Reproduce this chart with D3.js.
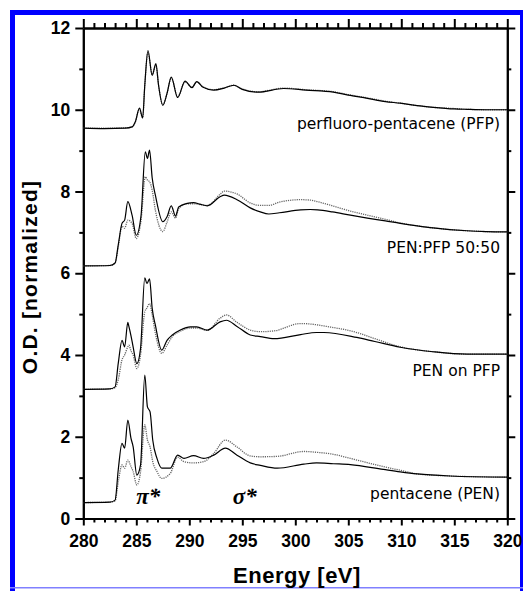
<!DOCTYPE html>
<html>
<head>
<meta charset="utf-8">
<script src="https://cdn.jsdelivr.net/npm/d3@7"></script>
<style>
  body { margin: 0; background: #fff; }
  .axis text { font-family: "Liberation Sans", Arial, sans-serif; font-size: 17.5px; font-weight: bold; fill: #000; }
  .axis path, .axis line { stroke: #000; stroke-width: 2; }
  .note { font-family: "DejaVu Sans", Verdana, sans-serif; font-size: 15.5px; fill: #000; }
</style>
</head>
<body>
<script>
//screen width and height
var w = 526;
var h = 591;

// energy grid + solid / dotted O.D. for each film
var pfpE      = [280, 282, 284, 284.6, 284.9, 285.3, 285.6, 285.8, 286.1, 286.5, 286.85, 287.1, 287.5, 287.9, 288.3, 288.9, 289.6, 290.25, 290.7, 291.3, 292.3, 293.3, 294.2, 295, 296.5, 298.9, 301, 303.6, 305, 306.8, 308.5, 309.9, 311.5, 313, 315, 316.2, 318, 320];
var pfpSolid  = [9.55, 9.54, 9.55, 9.58, 9.7, 10.04, 9.8, 10.6, 11.45, 10.84, 11.13, 10.6, 10.11, 10.4, 10.8, 10.3, 10.7, 10.54, 10.69, 10.55, 10.48, 10.53, 10.6, 10.5, 10.43, 10.52, 10.48, 10.43, 10.36, 10.28, 10.2, 10.16, 10.1, 10.06, 10.02, 10.01, 10.0, 10.0];
var pfpDotted = [9.55, 9.55, 9.56, 9.58, 9.7, 10.02, 9.8, 10.6, 11.4, 10.86, 11.1, 10.6, 10.12, 10.4, 10.78, 10.32, 10.68, 10.55, 10.68, 10.56, 10.49, 10.54, 10.6, 10.51, 10.44, 10.53, 10.49, 10.44, 10.37, 10.29, 10.21, 10.16, 10.1, 10.06, 10.03, 10.01, 10.0, 10.0];

var mixE      = [280, 282.5, 283, 283.3, 283.65, 283.9, 284.2, 284.6, 285, 285.45, 285.85, 286.05, 286.25, 286.5, 286.8, 287.5, 287.9, 288.3, 288.7, 289, 289.8, 290.4, 291, 291.7, 292.9, 293.3, 294.5, 295.75, 296.7, 297.5, 298.5, 300.5, 301.4, 302.1, 303.5, 305.2, 306.8, 308.5, 309.9, 311.5, 313, 316.2, 318, 320];
var mixSolid  = [6.18, 6.19, 6.25, 6.7, 7.22, 7.3, 7.75, 7.42, 6.93, 7.42, 8.97, 8.81, 9.01, 8.33, 7.91, 7.26, 7.38, 7.65, 7.4, 7.62, 7.71, 7.73, 7.69, 7.65, 7.87, 7.91, 7.8, 7.6, 7.5, 7.45, 7.48, 7.55, 7.56, 7.55, 7.5, 7.42, 7.35, 7.28, 7.22, 7.16, 7.11, 7.04, 7.02, 7.01];
var mixDotted = [6.18, 6.19, 6.25, 6.65, 7.15, 7.1, 7.3, 7.22, 6.85, 7.3, 8.36, 8.28, 8.24, 8.03, 7.54, 7.02, 7.25, 7.5, 7.35, 7.58, 7.7, 7.7, 7.68, 7.66, 7.93, 8.01, 7.94, 7.72, 7.66, 7.66, 7.74, 7.8, 7.79, 7.75, 7.65, 7.52, 7.42, 7.32, 7.23, 7.16, 7.11, 7.04, 7.02, 7.01];

var onE       = [280, 282.5, 283, 283.3, 283.65, 283.9, 284.2, 284.3, 284.5, 284.7, 285.05, 285.4, 285.8, 286, 286.25, 286.5, 286.8, 287.4, 287.9, 288.4, 289.15, 290.1, 290.7, 291.7, 292.9, 293.5, 294.5, 295.75, 296.7, 298, 300.5, 302, 302.7, 305.8, 307.5, 309.9, 313, 316.2, 320];
var onSolid   = [3.16, 3.17, 3.22, 3.8, 4.36, 4.2, 4.8, 4.7, 4.47, 4.2, 3.79, 4.16, 5.89, 5.75, 5.86, 5.14, 4.73, 4.12, 4.36, 4.49, 4.61, 4.69, 4.69, 4.61, 4.81, 4.85, 4.7, 4.49, 4.45, 4.4, 4.5, 4.55, 4.55, 4.43, 4.33, 4.19, 4.08, 4.02, 4.02];
var onDotted  = [3.16, 3.17, 3.2, 3.4, 3.88, 4.0, 4.2, 4.24, 4.1, 4.0, 3.67, 4.0, 5.06, 5.15, 5.26, 4.98, 4.53, 4.04, 4.24, 4.45, 4.58, 4.66, 4.66, 4.6, 4.9, 4.98, 4.8, 4.61, 4.57, 4.59, 4.77, 4.74, 4.71, 4.55, 4.4, 4.2, 4.08, 4.02, 4.02];

var penE      = [280, 282.5, 283, 283.3, 283.65, 283.9, 284.2, 284.5, 284.7, 285.05, 285.4, 285.8, 286.05, 286.3, 286.55, 286.95, 287.4, 288.2, 288.9, 289.5, 290.4, 291.35, 292.3, 293.4, 294.5, 295.75, 296.7, 298.3, 300.8, 302, 303.6, 305.2, 308.3, 309.9, 311.5, 314.6, 320];
var penSolid  = [0.39, 0.4, 0.45, 1.2, 1.84, 1.72, 2.41, 1.96, 1.76, 1.06, 1.31, 3.51, 2.73, 2.61, 1.92, 1.47, 1.23, 1.23, 1.55, 1.47, 1.54, 1.47, 1.55, 1.72, 1.55, 1.36, 1.3, 1.23, 1.33, 1.36, 1.34, 1.32, 1.2, 1.14, 1.09, 1.04, 1.01];
var penDotted = [0.39, 0.4, 0.43, 0.9, 1.31, 1.23, 1.43, 1.27, 1.15, 0.82, 1.14, 2.29, 1.92, 1.75, 1.39, 1.15, 0.98, 1.1, 1.5, 1.39, 1.36, 1.39, 1.59, 1.92, 1.75, 1.53, 1.51, 1.52, 1.64, 1.62, 1.57, 1.47, 1.27, 1.18, 1.09, 1.04, 1.01];

var curveLabels = ["perfluoro-pentacene (PFP)", "PEN:PFP 50:50", "PEN on PFP", "pentacene (PEN)"];
// baseline of each name, in O.D. units
var labelY      = [9.53, 6.5, 3.49, 0.48];

var xMajor = [280, 285, 290, 295, 300, 305, 310, 315, 320];
var yMajor = [0, 2, 4, 6, 8, 10, 12];

var createSVG = function (w, h) {
  return d3.select("body")
    .append("svg")
    .attr("width", w)
    .attr("height", h);
};
var svg = createSVG(w, h);

// plot box (not "top"/"left": those clash with window globals)
var boxL = 83.3, boxR = 507.3, boxT = 28, boxB = 518.5;
var x = d3.scaleLinear().domain([280, 320]).range([boxL, boxR]);
var y = d3.scaleLinear().domain([0, 12]).range([boxB, boxT]);

var xMinor = d3.range(280, 321, 1).filter(function(d){ return d % 5 !== 0; });
var yMinor = d3.range(1, 12, 2);

// blue frame
svg.append("rect").attr("x", 10).attr("y", 10).attr("width", 5).attr("height", h - 10).attr("fill", "#0000ff");
svg.append("rect").attr("x", 10).attr("y", 10).attr("width", 513).attr("height", 5).attr("fill", "#0000ff");
svg.append("rect").attr("x", 520).attr("y", 10).attr("width", 3).attr("height", h - 10).attr("fill", "#0000ff");
svg.append("rect").attr("x", 10).attr("y", 587).attr("width", 513).attr("height", 1.5).attr("fill", "#8080ff");

var addAxis = function(axis, tx, ty) {
  svg.append("g")
    .attr("class", "axis")
    .attr("transform", "translate(" + tx + "," + ty + ")")
    .call(axis);
};

// minor ticks first, then major with labels
addAxis(d3.axisBottom(x).tickValues(xMinor).tickSize(4).tickSizeOuter(0).tickFormat(""), 0, boxB);
addAxis(d3.axisTop(x).tickValues(xMinor).tickSize(5).tickSizeOuter(0).tickFormat(""), 0, boxT);
addAxis(d3.axisLeft(y).tickValues(yMinor).tickSize(4).tickSizeOuter(0).tickFormat(""), boxL, 0);
addAxis(d3.axisRight(y).tickValues(yMinor).tickSize(4).tickSizeOuter(0).tickFormat(""), boxR, 0);

addAxis(d3.axisBottom(x).tickValues(xMajor).tickSize(7).tickSizeOuter(0).tickPadding(9), 0, boxB);
addAxis(d3.axisTop(x).tickValues(xMajor).tickSize(9).tickSizeOuter(0).tickFormat(""), 0, boxT);
addAxis(d3.axisLeft(y).tickValues(yMajor).tickSize(8).tickSizeOuter(0).tickPadding(5), boxL, 0);
addAxis(d3.axisRight(y).tickValues(yMajor).tickSize(8).tickSizeOuter(0).tickFormat(""), boxR, 0);

var drawSpectrum = function(es, vals, dotted) {
  var pts = es.map(function(e, i){ return [e, vals[i]]; });
  var line = d3.line()
    .x(function(d){ return x(d[0]); })
    .y(function(d){ return y(d[1]); })
    .curve(d3.curveMonotoneX);
  svg.append("path")
    .datum(pts)
    .attr("d", line)
    .attr("fill", "none")
    .attr("stroke", dotted ? "#666" : "#000")
    .attr("stroke-width", dotted ? 1.3 : 1.2)
    .attr("stroke-dasharray", dotted ? "1.2,1" : null);
};

drawSpectrum(pfpE, pfpDotted, true);
drawSpectrum(pfpE, pfpSolid, false);
drawSpectrum(mixE, mixDotted, true);
drawSpectrum(mixE, mixSolid, false);
drawSpectrum(onE, onDotted, true);
drawSpectrum(onE, onSolid, false);
drawSpectrum(penE, penDotted, true);
drawSpectrum(penE, penSolid, false);

// sample names at the right
svg.selectAll(".note")
  .data(curveLabels)
  .enter()
  .append("text")
  .attr("class", "note")
  .attr("x", 500)
  .attr("y", function(d, i){ return y(labelY[i]); })
  .attr("text-anchor", "end")
  .text(function(d){ return d; });

// resonance marks
var addMark = function(txt, e) {
  svg.append("text")
    .attr("x", x(e)).attr("y", 504)
    .attr("font-family", "Liberation Serif, serif")
    .attr("font-style", "italic").attr("font-weight", "bold")
    .attr("font-size", 23)
    .text(txt);
};
addMark("π*", 285.0);
addMark("σ*", 294.1);

// axis titles
svg.append("text")
  .attr("x", 297).attr("y", 583)
  .attr("text-anchor", "middle")
  .attr("font-family", "Liberation Sans, Arial, sans-serif")
  .attr("font-weight", "bold")
  .attr("font-size", 22)
  .attr("letter-spacing", 0.5)
  .text("Energy [eV]");
svg.append("text")
  .attr("transform", "translate(37,277) rotate(-90)")
  .attr("text-anchor", "middle")
  .attr("font-family", "Liberation Sans, Arial, sans-serif")
  .attr("font-weight", "bold")
  .attr("font-size", 21)
  .attr("letter-spacing", 1.2)
  .text("O.D. [normalized]");
</script>
</body>
</html>
